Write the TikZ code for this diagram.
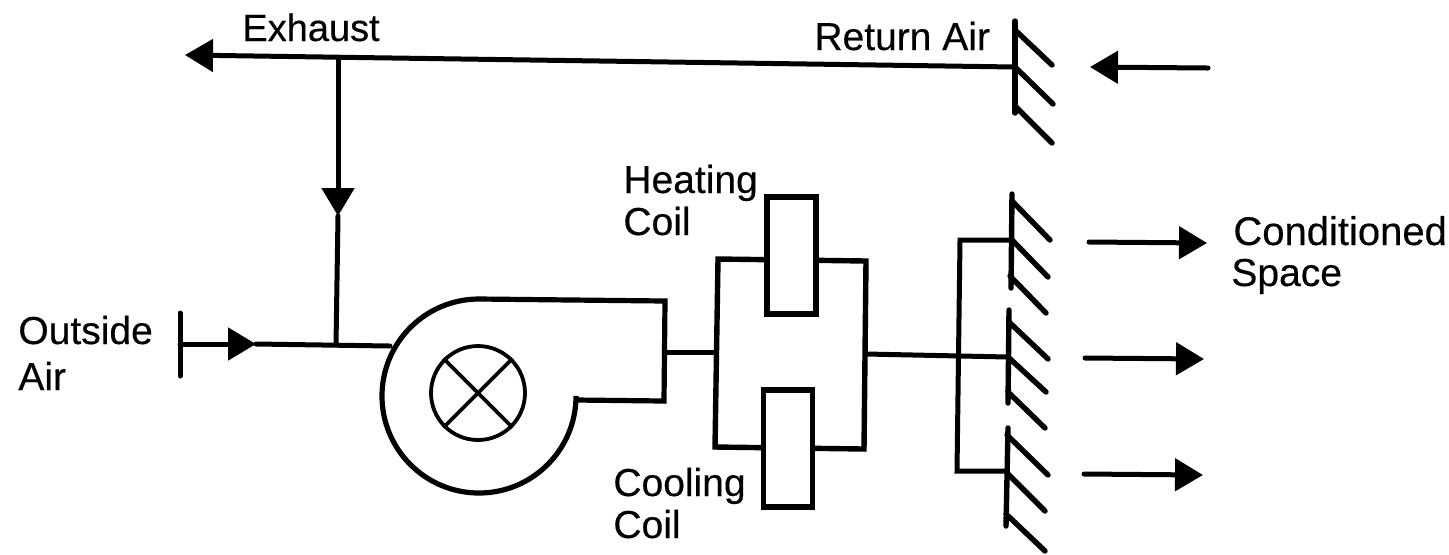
\documentclass[tikz,border=0pt]{standalone}
\usepackage{fontspec}
\setmainfont{Liberation Sans}
\newfontfamily\labfont[FakeBold=0.35]{Liberation Sans}
\usetikzlibrary{arrows.meta}
\tikzset{
  x=0.5pt,y=-0.5pt,
  wire/.style={line width=2.5pt,line cap=round,line join=miter},
  thinwire/.style={line width=1.9pt},
  fin/.style={line width=2.7pt,line cap=round},
  flow/.style={wire,-{Triangle[length=14pt,width=16pt]}},
  coilbox/.style={draw,line width=2.7pt,fill=white,inner sep=0pt,minimum width=24.5pt,minimum height=58.5pt},
  lab/.style={anchor=base west,inner sep=0pt,font=\labfont\fontsize{19.5}{23}\selectfont},
}
\begin{document}
\begin{tikzpicture}
\useasboundingbox (0,0) rectangle (1449,554);
% named points
\coordinate (exhtip) at (185,55);
\coordinate (junctop) at (338,58);
\coordinate (downtip) at (338,216);
\coordinate (junclow) at (336,345);
\coordinate (barmid) at (180,344);
\coordinate (bartop) at (180,313);
\coordinate (barbot) at (180,376);
\coordinate (ointip) at (256,344);
\coordinate (fanin) at (390,346);
\coordinate (ret) at (1015,67);
\coordinate (fanout) at (665,352);
\coordinate (frameL) at (716,352);
\coordinate (frameR) at (866,354);
\coordinate (sup1) at (1012,240);
\coordinate (sup2) at (1008,357);
\coordinate (sup3) at (1006,471);
\coordinate (brTop) at (960,240);
\coordinate (brBot) at (957,471);
% return duct, exhaust, mixed air
\draw[flow] (ret) -- (exhtip);
\draw[flow] (junctop) -- (downtip);
\draw[wire] (downtip) -- (junclow);
\draw[wire] (bartop) -- (barbot);
\draw[flow] (barmid) -- (ointip);
\draw[wire] (ointip) -- (fanin);
% fan
\draw[line width=2.6pt,line join=miter,fill=white]
  (479,299) -- (665,301) -- (664,401) -- (576,400) -- (576,396)
  arc[start angle=0,end angle=-270,x radius=97,y radius=-97] -- cycle;
\node[circle,draw,line width=1.9pt,minimum size=47pt,inner sep=0pt] (wheel) at (478,393) {};
\draw[thinwire] (wheel.45) -- (wheel.225);
\draw[thinwire] (wheel.135) -- (wheel.315);
% coil frame
\draw[wire] (fanout) -- (frameL);
\draw[line width=2.7pt,line join=miter] (718,259) -- (866,261) -- (864,449) -- (715,447) -- cycle;
\node[coilbox] (heat) at (791.5,255.5) {};
\node[coilbox] (cool) at (788,448.5) {};
% supply
\draw[wire] (frameR) -- (sup2);
\draw[wire] (sup1) -- (brTop) -- (brBot) -- (sup3);
% dampers
\draw[fin] (1015,21) -- (1015,113);
\draw[fin] (1015,30) -- (1052,65);
\draw[fin] (1015,67) -- (1053,104);
\draw[fin] (1015,106) -- (1052,143);
\draw[fin] (1012,194) -- (1011,288);
\draw[fin] (1012,201) -- (1050,240);
\draw[fin] (1012,240) -- (1048,277);
\draw[fin] (1010,276) -- (1046,313);
\draw[fin] (1009,310) -- (1008,403);
\draw[fin] (1009,322) -- (1048,359);
\draw[fin] (1008,357) -- (1046,392);
\draw[fin] (1008,392) -- (1045,428);
\draw[fin] (1008,428) -- (1006,526);
\draw[fin] (1007,435) -- (1048,475);
\draw[fin] (1007,473) -- (1045,511);
\draw[fin] (1006,514) -- (1045,551);
% room arrows
\coordinate (a0s) at (1208,68); \coordinate (a0e) at (1090,67);
\coordinate (a1s) at (1089,242); \coordinate (a1e) at (1207,243);
\coordinate (a2s) at (1085,358); \coordinate (a2e) at (1204,359);
\coordinate (a3s) at (1084,474); \coordinate (a3e) at (1203,475);
\draw[flow] (a0s) -- (a0e);
\draw[flow] (a1s) -- (a1e);
\draw[flow] (a2s) -- (a2e);
\draw[flow] (a3s) -- (a3e);
% labels
\node[lab,font=\labfont\fontsize{19}{23}\selectfont] (t1) at (242,41) {Exhaust};
\node[lab] (t2) at (814,50) {Return Air};
\node[lab] (t3) at (623,193) {Heating};
\node[lab] (t4) at (623,235) {Coil};
\node[lab] (t5) at (613,496) {Cooling};
\node[lab] (t6) at (613,538) {Coil};
\node[lab] (t7) at (18,344) {Outside};
\node[lab] (t8) at (18,390) {Air};
\node[lab,font=\labfont\fontsize{20}{23}\selectfont] (t9) at (1233,245) {Conditioned};
\node[lab] (t10) at (1231,286) {Space};
\end{tikzpicture}
\end{document}
